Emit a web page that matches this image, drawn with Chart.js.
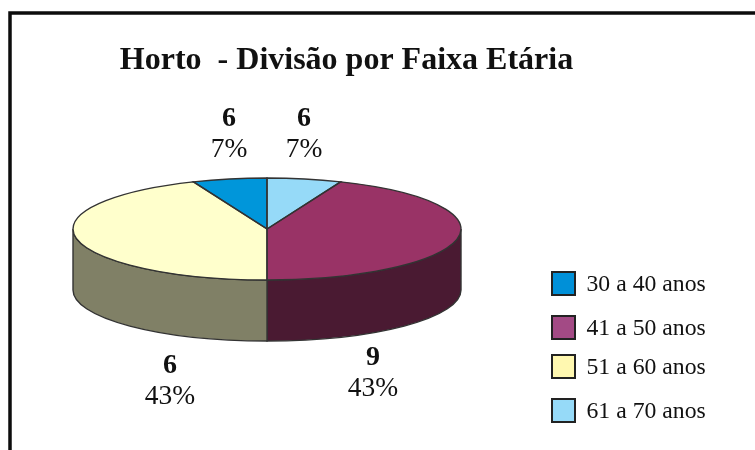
<!DOCTYPE html>
<html>
<head>
<meta charset="utf-8">
<style>html,body{margin:0;padding:0;background:#fff}#w{width:755px;height:450px;position:relative}canvas{display:block}</style>
<script src="https://cdn.jsdelivr.net/npm/chart.js@4"></script>
</head>
<body>
<div id="w"><canvas id="c" width="755" height="450"></canvas></div>
<script>
const chartTitle = 'Horto  - Divisão por Faixa Etária';
const categories = ['61 a 70 anos', '41 a 50 anos', '51 a 60 anos', '30 a 40 anos'];
const sliceShares = [6.2, 43.8, 43.8, 6.2];
const valueLabels = ['6', '9', '6', '6'];
const percentLabels = ['7%', '43%', '43%', '7%'];
const sliceColors = ['#96daf8', '#993366', '#ffffcc', '#0096da'];
const wallColors = ['#4c7080', '#4a1a32', '#808066', '#004c70'];
const legendColors = ['#96daf8', '#a34a85', '#fff8b0', '#0090d8'];

const SERIF = '"Liberation Serif", "Times New Roman", serif';
const SQUASH = 51 / 194, DEPTH = 61, EDGE = '#333333', INK = '#111111';
const labelSpots = [[304, 119, 150], [373, 358, 389], [170, 366, 397], [229, 119, 150]];
const legendRows = [272, 316, 355, 399];

function arcsOf(chart) {
  return chart.getDatasetMeta(0).data.map(a =>
    a.getProps(['x', 'y', 'startAngle', 'endAngle', 'outerRadius'], true));
}
function text(ctx, str, x, y, font, align, stretch) {
  ctx.save();
  ctx.font = font; ctx.fillStyle = INK; ctx.textBaseline = 'middle'; ctx.textAlign = align || 'center';
  ctx.translate(x, y); ctx.scale(stretch || 1, 1);
  ctx.fillText(str, 0, 0);
  ctx.restore();
}
const pie3d = {
  id: 'pie3d',
  beforeDraw(chart) {
    const ctx = chart.ctx;
    ctx.save();
    ctx.fillStyle = '#fff'; ctx.fillRect(0, 0, chart.width, chart.height);
    ctx.strokeStyle = '#0c0c0c'; ctx.lineWidth = 3.5;
    ctx.beginPath(); ctx.moveTo(10, chart.height + 4); ctx.lineTo(10, 13); ctx.lineTo(chart.width + 4, 13); ctx.stroke();
    ctx.restore();
  },
  beforeDatasetsDraw(chart) {
    const ctx = chart.ctx;
    ctx.save();
    arcsOf(chart).forEach((a, i) => {
      const from = Math.max(a.startAngle, 0), to = Math.min(a.endAngle, Math.PI);
      if (to <= from) return;
      const ry = a.outerRadius * SQUASH;
      ctx.beginPath();
      ctx.ellipse(a.x, a.y, a.outerRadius, ry, 0, from, to);
      ctx.ellipse(a.x, a.y + DEPTH, a.outerRadius, ry, 0, to, from, true);
      ctx.closePath();
      ctx.fillStyle = wallColors[i]; ctx.fill();
      ctx.strokeStyle = EDGE; ctx.lineWidth = 1.4; ctx.stroke();
    });
    ctx.restore();
    ctx.save();
    const cy = chart.getDatasetMeta(0).data[0].y;
    ctx.translate(0, cy); ctx.scale(1, SQUASH); ctx.translate(0, -cy);
  },
  afterDatasetsDraw(chart) {
    const ctx = chart.ctx;
    ctx.restore();
    ctx.save();
    arcsOf(chart).forEach(a => {
      ctx.beginPath();
      ctx.moveTo(a.x, a.y);
      ctx.ellipse(a.x, a.y, a.outerRadius, a.outerRadius * SQUASH, 0, a.startAngle, a.endAngle);
      ctx.closePath();
      ctx.strokeStyle = EDGE; ctx.lineWidth = 1.4; ctx.stroke();
    });
    ctx.restore();
  },
  afterDraw(chart) {
    const ctx = chart.ctx;
    text(ctx, chartTitle, 346.5, 61, 'bold 32px ' + SERIF, 'center', 1);
    categories.forEach((c, i) => {
      const [x, y1, y2] = labelSpots[i];
      text(ctx, valueLabels[i], x, y1, 'bold 28px ' + SERIF);
      text(ctx, percentLabels[i], x, y2, '27.5px ' + SERIF);
    });
    const order = categories.map((c, i) => i).sort((p, q) => categories[p].localeCompare(categories[q]));
    order.forEach((i, row) => {
      const y = legendRows[row];
      ctx.save();
      ctx.fillStyle = legendColors[i]; ctx.fillRect(552, y, 23, 23);
      ctx.strokeStyle = '#222'; ctx.lineWidth = 2; ctx.strokeRect(552, y, 23, 23);
      ctx.restore();
      text(ctx, categories[i], 586.5, y + 13, '22.5px ' + SERIF, 'left', 1.055);
    });
  }
};
new Chart(document.getElementById('c'), {
  type: 'pie',
  data: { labels: categories, datasets: [{ data: sliceShares, backgroundColor: sliceColors, borderWidth: 0 }] },
  options: {
    responsive: false, animation: false,
    layout: { padding: { left: 73, right: 294, top: 35, bottom: 27 } },
    plugins: { legend: { display: false }, tooltip: { enabled: false }, title: { display: false } }
  },
  plugins: [pie3d]
});
</script>
</body>
</html>
